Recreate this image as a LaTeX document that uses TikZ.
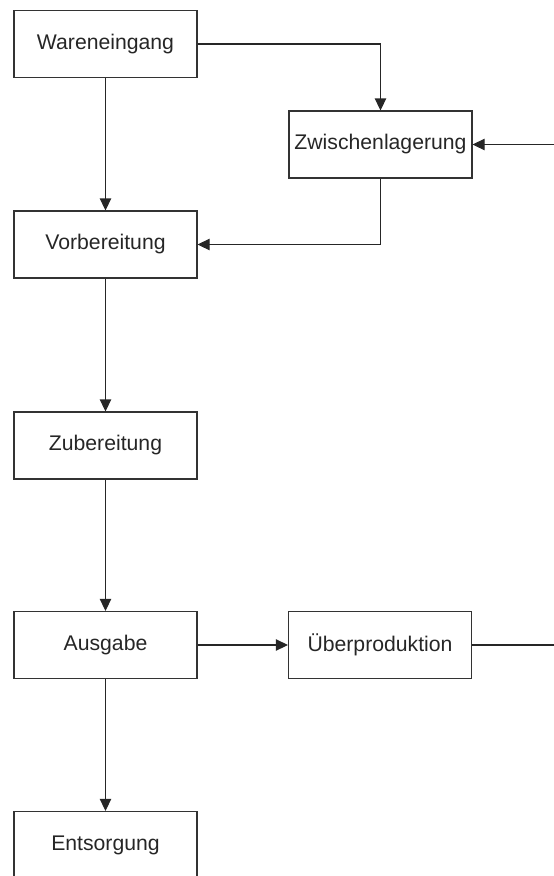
\documentclass[tikz,border=0pt]{standalone}
\usepackage{fontspec}
\setmainfont{Liberation Sans}
\usetikzlibrary{arrows.meta}
\begin{document}
\begin{tikzpicture}[x=0.75pt,y=-0.75pt,
		>={Triangle[length=9pt,width=8.5pt]},
		stepbox/.style={draw=black!80,line width=0.8pt,minimum width=137.25pt,minimum height=50.25pt,
			inner sep=0pt,text=black!85,font=\fontsize{15.9}{19}\selectfont},
		flow/.style={draw=black!85,line width=0.8pt}]
	\useasboundingbox (0,0) rectangle (554,876);
	\clip (0,0) rectangle (554,876);
	\node [stepbox] (we)  at (105.5,44)    {Wareneingang};
	\node [stepbox] (zw)  at (380.5,144.5) {Zwischenlagerung};
	\node [stepbox] (vb)  at (105.5,244.5) {Vorbereitung};
	\node [stepbox] (zb)  at (105.5,445.5) {Zubereitung};
	\node [stepbox] (ag)  at (105.5,645)   {Ausgabe};
	\node [stepbox] (up)  at (380,645)     {Überproduktion};
	\node [stepbox] (ent) at (105.5,845)   {Entsorgung};
	\coordinate (inR)  at (554,144.5);
	\coordinate (outR) at (554,645);
	\draw [flow,->] (we.east) -| (zw.north);
	\draw [flow,->] (zw.south) |- (vb.east);
	\draw [flow,->] (inR) -- (zw.east);
	\draw [flow,->] (ag) -- (up);
	\draw [flow] (up.east) -- (outR);
	\foreach \a/\b in {we/vb,vb/zb,zb/ag,ag/ent}{%
			\draw [flow,->] (\a) -- (\b);
			}
\end{tikzpicture}
\end{document}
